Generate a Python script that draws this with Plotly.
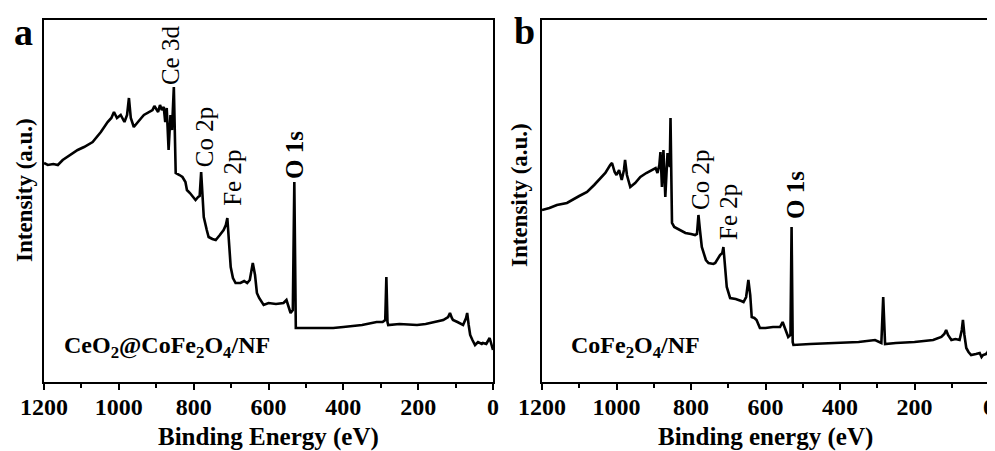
import plotly.graph_objects as go

# ---------------- data ----------------
energy_a = [1200, 1190, 1175, 1163, 1150, 1130, 1110, 1093, 1070, 1048, 1030, 1020, 1013, 1005, 995, 985, 978,
            973, 968, 960, 950, 940, 933, 920, 910, 905, 901, 895, 890, 885, 880, 876, 872, 867, 862, 858, 853,
            850, 848, 838, 830, 822, 818, 810, 800, 795, 788, 784, 780, 776, 773, 765, 760, 750, 741, 730, 720,
            714, 710, 706, 701, 695, 688, 675, 665, 657, 650, 642, 636, 631, 625, 613, 600, 580, 560, 552, 545,
            541, 535, 531, 527, 523, 500, 450, 427, 400, 350, 311, 295, 288, 285, 282, 280, 250, 203, 180, 133,
            120, 115, 110, 107, 95, 80, 72, 69, 65, 61, 55, 48, 40, 30, 27, 18, 12, 9, 3, 0]
intensity_a = [217, 215, 216, 215, 220, 225, 230, 233, 238, 248, 258, 262, 268, 262, 265, 258, 265,
               282, 262, 253, 258, 262, 265, 268, 270, 274, 272, 268, 275, 270, 273, 258, 272, 230, 265, 250, 293,
               220, 207, 205, 203, 198, 190, 187, 183, 180, 183, 184, 208, 185, 163, 150, 143, 141, 140, 145, 150,
               155, 162, 140, 113, 102, 97, 97, 99, 97, 100, 117, 105, 87, 82, 75, 77, 76, 77, 80, 73,
               67, 70, 198, 52, 52, 52, 52, 52, 53, 55, 58, 58, 60, 103, 58, 55, 56, 55, 56, 60,
               63, 67, 62, 60, 58, 55, 62, 67, 55, 45, 40, 35, 38, 36, 37, 36, 40, 42, 34, 30]

energy_b = [1200, 1180, 1160, 1133, 1100, 1079, 1060, 1044, 1030, 1017, 1012, 1005, 1000, 993, 986, 980, 977,
            972, 963, 950, 936, 920, 905, 895, 890, 885, 882, 878, 874, 869, 863, 857, 855, 851, 845, 829, 815,
            800, 789, 784, 780, 776, 771, 760, 753, 740, 735, 722, 716, 713, 708, 704, 695, 680, 665, 659, 652,
            646, 641, 637, 630, 624, 615, 600, 580, 561, 554, 548, 539, 533, 530, 527, 525, 480, 418, 350, 306,
            295, 289, 284, 281, 279, 250, 200, 150, 128, 120, 115, 110, 101, 90, 79, 73, 70, 66, 61, 55, 48,
            35, 25, 20, 16, 8, 3, 0]
intensity_b = [170, 172, 175, 177, 184, 188, 195, 202, 207, 215, 217, 208, 205, 210, 200, 210, 220,
               205, 193, 197, 203, 207, 210, 212, 207, 215, 228, 193, 230, 183, 227, 213, 262, 157, 153, 150, 147,
               146, 145, 146, 165, 150, 133, 120, 117, 116, 117, 125, 127, 133, 110, 93, 82, 81, 79, 78, 83,
               100, 85, 63, 62, 60, 52, 52, 53, 53, 58, 52, 43, 45, 153, 38, 35, 36, 37, 38, 40,
               38, 37, 83, 37, 36, 37, 38, 40, 43, 46, 50, 45, 40, 41, 40, 50, 60, 45, 32, 28, 25,
               26, 27, 23, 25, 26, 28, 33]

# peak labels: (text, energy, intensity at label centre)
peaks_a = [("Ce 3d", 863, 325), ("Co 2p", 772, 243), ("Fe 2p", 698, 202), ("O 1s", 532, 225)]
peaks_b = [("Co 2p", 776, 200), ("Fe 2p", 701, 168), ("O 1s", 521, 185)]

sample_a = "CeO<sub>2</sub>@CoFe<sub>2</sub>O<sub>4</sub>/NF"
sample_b = "CoFe<sub>2</sub>O<sub>4</sub>/NF"
xtitle_a = "Binding Energy (eV)"
xtitle_b = "Binding energy (eV)"
ytitle = "Intensity (a.u.)"
tick_vals = [1200, 1000, 800, 600, 400, 200, 0]

# ---------------- figure ----------------
FONT = "Liberation Serif, Times New Roman, serif"
fig = go.Figure()
fig.add_trace(go.Scatter(x=energy_a, y=intensity_a, mode="lines", line=dict(color="black", width=2.6),
                         xaxis="x", yaxis="y", showlegend=False))
fig.add_trace(go.Scatter(x=energy_b, y=intensity_b, mode="lines", line=dict(color="black", width=2.6),
                         xaxis="x2", yaxis="y2", showlegend=False))

W, H = 995, 451
OFF = 8  # page body margin
# desired plot box in page pixels
box_l, box_r, box_t, box_b = 44, 989, 20, 382
ml, mt = box_l - OFF, box_t - OFF
mr = W - (box_r - OFF)
mb = H - (box_b - OFF)
pw = box_r - box_l
ph = box_b - box_t
dom_a = [0, (493 - box_l) / pw]
dom_b = [(542 - box_l) / pw, 1]

xcommon = dict(range=[1200, 0], tickvals=tick_vals, ticks="outside", ticklen=6, tickwidth=1.5,
               tickcolor="black", showline=True, linecolor="black", linewidth=1.5, mirror=True,
               showgrid=False, zeroline=False, automargin=False, ticklabelstandoff=-4,
               minor=dict(dtick=100, tick0=0, ticks="outside", ticklen=4, tickwidth=1.5, tickcolor="black",
                          showgrid=False),
               tickfont=dict(family=FONT, size=24, color="black", weight="bold"))
ycommon = dict(range=[-2, 360], showticklabels=False, ticks="", showline=True, linecolor="black",
               linewidth=1.5, mirror=True, showgrid=False, zeroline=False, automargin=False)

fig.update_layout(
    width=W, height=H, margin=dict(l=ml, r=mr, t=mt, b=mb, autoexpand=False),
    paper_bgcolor="white", plot_bgcolor="white",
    xaxis=dict(domain=dom_a, anchor="y", **xcommon),
    xaxis2=dict(domain=dom_b, anchor="y2", **xcommon),
    yaxis=dict(domain=[0, 1], anchor="x", **ycommon),
    yaxis2=dict(domain=[0, 1], anchor="x2", **ycommon),
)


def px_to_paper(px, py):
    return (px - box_l) / pw, (box_b - py) / ph


ann = []
for txt, ex, iy in peaks_a:
    ann.append(dict(text=txt, x=ex, y=iy, xref="x", yref="y", textangle=-90, showarrow=False,
                    xanchor="center", yanchor="middle",
                    font=dict(family=FONT, size=25, color="black", weight="bold" if txt == "O 1s" else "normal")))
for txt, ex, iy in peaks_b:
    ann.append(dict(text=txt, x=ex, y=iy, xref="x2", yref="y2", textangle=-90, showarrow=False,
                    xanchor="center", yanchor="middle",
                    font=dict(family=FONT, size=25, color="black", weight="bold" if txt == "O 1s" else "normal")))

ann.append(dict(text=sample_a, x=871, y=33, xref="x", yref="y", showarrow=False, xanchor="center",
                yanchor="middle", font=dict(family=FONT, size=24, color="black", weight="bold")))
ann.append(dict(text=sample_b, x=948, y=33, xref="x2", yref="y2", showarrow=False, xanchor="center",
                yanchor="middle", font=dict(family=FONT, size=24, color="black", weight="bold")))

for letter, (px, py) in [("a", (23, 32)), ("b", (524, 31))]:
    x, y = px_to_paper(px, py)
    ann.append(dict(text=letter, x=x, y=y, xref="paper", yref="paper", showarrow=False, xanchor="center",
                    yanchor="middle", font=dict(family=FONT, size=38, color="black", weight="bold")))

for px, py in [(24, 190), (519, 195)]:
    x, y = px_to_paper(px, py)
    ann.append(dict(text=ytitle, x=x, y=y, xref="paper", yref="paper", textangle=-90, showarrow=False,
                    xanchor="center", yanchor="middle",
                    font=dict(family=FONT, size=23, color="black", weight="bold")))

for txt, px in [(xtitle_a, 268), (xtitle_b, 765)]:
    x, y = px_to_paper(px, 437)
    ann.append(dict(text=txt, x=x, y=y, xref="paper", yref="paper", showarrow=False,
                    xanchor="center", yanchor="middle",
                    font=dict(family=FONT, size=25, color="black", weight="bold")))

fig.update_layout(annotations=ann)
fig.write_html("out.html")
